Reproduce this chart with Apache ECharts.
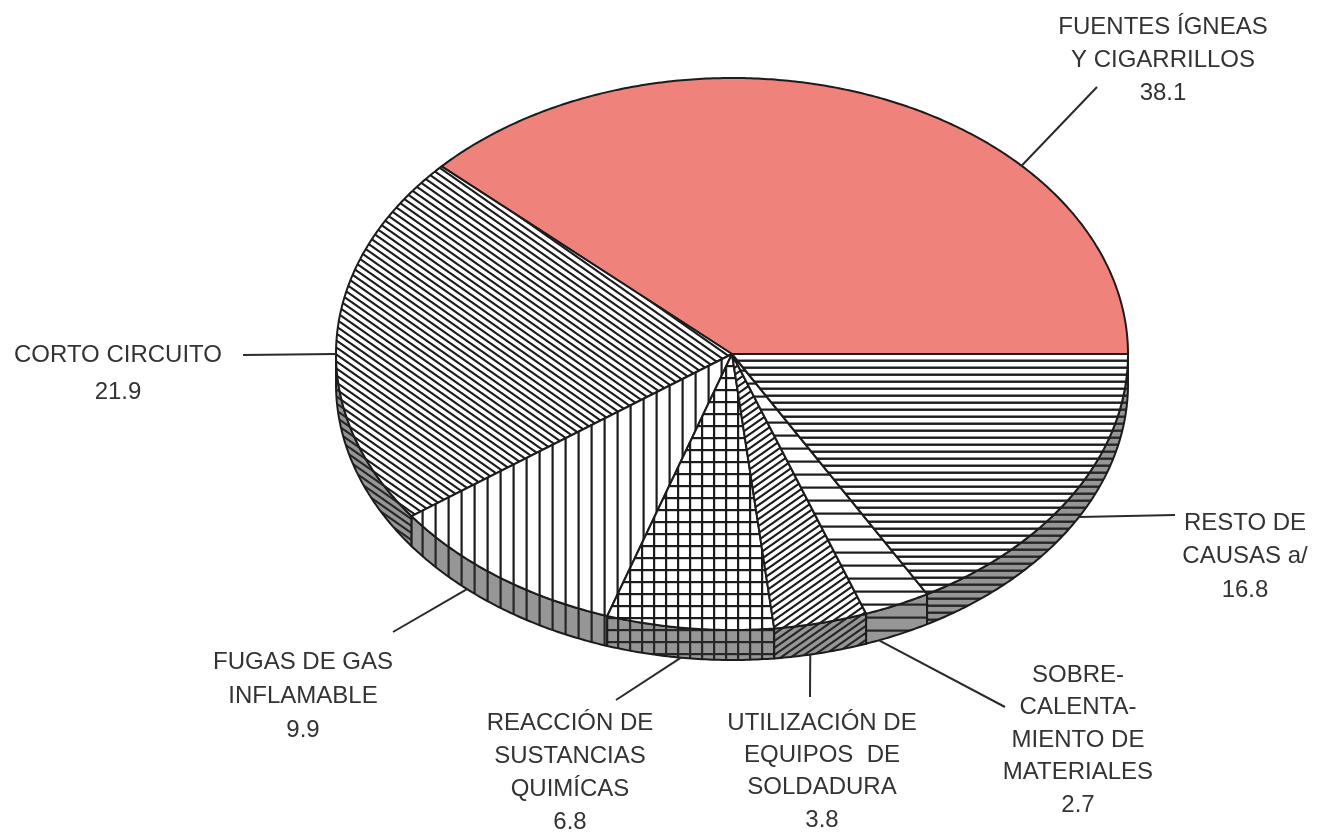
<!DOCTYPE html>
<html>
<head>
<meta charset="utf-8">
<title>Causas de incendio</title>
<script src="https://cdn.jsdelivr.net/npm/echarts@6/dist/echarts.min.js"></script>
<style>
  html, body { margin: 0; padding: 0; background: #ffffff; }
  #chart { width: 1318px; height: 833px; }
</style>
</head>
<body>
<div id="chart"></div>
<script>
// Causes and their shares (percent)
const causes = [
  'FUENTES ÍGNEAS\nY CIGARRILLOS',
  'CORTO CIRCUITO',
  'FUGAS DE GAS\nINFLAMABLE',
  'REACCIÓN DE\nSUSTANCIAS\nQUIMÍCAS',
  'UTILIZACIÓN DE\nEQUIPOS  DE\nSOLDADURA',
  'SOBRE-\nCALENTA-\nMIENTO DE\nMATERIALES',
  'RESTO DE\nCAUSAS a/'
];
const shares = [38.1, 21.9, 9.9, 6.8, 3.8, 2.7, 16.8];

// Fill style of each slice
const fills = ['solid', 'diagDown', 'vert', 'grid', 'diagUp', 'hSparse', 'hDense'];

// Pie geometry (tilted disc)
const geo = { cx: 732, cy: 354, rx: 396, ry: 276, depth: 30 };

// Label placement: centre of first text line, line height, leader line
const labelLayout = [
  { x: 1163, y: 27,  lh: 33,   lead: { ang: 43,    drop: false, to: [1097, 87] } },
  { x: 118,  y: 355, lh: 37,   lead: { ang: 180,   drop: false, to: [243, 355] } },
  { x: 303,  y: 662, lh: 34,   lead: { ang: 228,   drop: true,  to: [393, 632] } },
  { x: 570,  y: 723, lh: 33,   lead: { ang: 262.6, drop: true,  to: [616, 700] } },
  { x: 822,  y: 723, lh: 32.4, lead: { ang: 281.4, drop: true,  to: [810, 697] } },
  { x: 1078, y: 675, lh: 32.5, lead: { ang: 291.8, drop: true,  to: [1005, 707] } },
  { x: 1245, y: 523, lh: 33.5, lead: { ang: -28.8, drop: true,  to: [1175, 515] } }
];

const SALMON = '#ef837c';
const INK = '#1c1c1c';
const TEXT = '#333333';
const FONT = '24px "Liberation Sans", Arial, Helvetica, sans-serif';

// Hatch tiles used as repeating canvas patterns
function makeTile(kind, bg, ink) {
  const c = document.createElement('canvas');
  let w = 12, h = 12;
  if (kind === 'diagDown' || kind === 'diagUp') { w = 10; h = 7; }
  else if (kind === 'vert') { w = 13; h = 4; }
  else if (kind === 'grid') { w = 12; h = 12; }
  else if (kind === 'hSparse') { w = 4; h = 13; }
  else if (kind === 'hDense') { w = 4; h = 7; }
  c.width = w; c.height = h;
  const g = c.getContext('2d');
  g.fillStyle = bg;
  g.fillRect(0, 0, w, h);
  g.strokeStyle = ink;
  g.lineCap = 'square';
  if (kind === 'diagDown') {
    g.lineWidth = 2.2;
    for (const s of [-w, 0, w]) {
      g.beginPath(); g.moveTo(s, 0); g.lineTo(s + w, h); g.stroke();
    }
  } else if (kind === 'diagUp') {
    g.lineWidth = 2.2;
    for (const s of [-w, 0, w]) {
      g.beginPath(); g.moveTo(s, h); g.lineTo(s + w, 0); g.stroke();
    }
  } else if (kind === 'vert') {
    g.fillStyle = ink; g.fillRect(5.5, 0, 2.2, h);
  } else if (kind === 'grid') {
    g.fillStyle = ink; g.fillRect(5, 0, 2.2, h); g.fillRect(0, 5, w, 2.2);
  } else if (kind === 'hSparse') {
    g.fillStyle = ink; g.fillRect(0, 5.5, w, 2.2);
  } else if (kind === 'hDense') {
    g.fillStyle = ink; g.fillRect(0, 2.5, w, 2.4);
  }
  return { image: c, repeat: 'repeat' };
}

function topFill(i) {
  return fills[i] === 'solid' ? SALMON : makeTile(fills[i], '#ffffff', INK);
}
function sideFill(i) {
  return fills[i] === 'solid' ? '#b86660' : makeTile(fills[i], '#969696', '#262626');
}
const topFills = fills.map((_, i) => topFill(i));
const sideFills = fills.map((_, i) => sideFill(i));

// Cumulative start angle (degrees, counter-clockwise from 3 o'clock)
const total = shares.reduce((a, b) => a + b, 0);
const startAt = [];
(function () {
  let acc = 0;
  shares.forEach(v => { startAt.push(acc / total * 360); acc += v; });
})();

function pt(deg, drop) {
  const r = deg * Math.PI / 180;
  return [geo.cx + geo.rx * Math.cos(r), geo.cy - geo.ry * Math.sin(r) + (drop || 0)];
}
function arc(a1, a2, drop) {
  const n = Math.max(2, Math.ceil(Math.abs(a2 - a1) * 2));
  const pts = [];
  for (let k = 0; k <= n; k++) pts.push(pt(a1 + (a2 - a1) * k / n, drop));
  return pts;
}

function renderSide(params, api) {
  const i = params.dataIndex;
  const a1 = startAt[i];
  const a2 = a1 + api.value(0) / total * 360;
  const lo = Math.max(a1, 180), hi = Math.min(a2, 360);
  if (hi <= lo) return { type: 'group', children: [] };
  const points = arc(lo, hi, 0).concat(arc(hi, lo, geo.depth));
  return {
    type: 'polygon',
    shape: { points: points },
    style: { fill: sideFills[i], stroke: INK, lineWidth: 2, lineJoin: 'round' }
  };
}

function renderTop(params, api) {
  const i = params.dataIndex;
  const v = api.value(0);
  const a1 = startAt[i];
  const a2 = a1 + v / total * 360;
  const points = [[geo.cx, geo.cy]].concat(arc(a1, a2, 0));
  const L = labelLayout[i];
  const from = pt(L.lead.ang, L.lead.drop ? geo.depth : 0);
  const label = causes[i] + '\n' + v.toFixed(1);
  return {
    type: 'group',
    children: [
      {
        type: 'polygon',
        shape: { points: points },
        style: { fill: topFills[i], stroke: INK, lineWidth: 2, lineJoin: 'round' }
      },
      {
        type: 'polyline',
        shape: { points: [from, L.lead.to] },
        style: { stroke: '#2a2a2a', lineWidth: 2, fill: null }
      },
      {
        type: 'text',
        style: {
          text: label,
          x: L.x,
          y: L.y - L.lh / 2,
          font: FONT,
          fill: TEXT,
          lineHeight: L.lh,
          align: 'center',
          verticalAlign: 'top',
          textAlign: 'center',
          textVerticalAlign: 'top'
        }
      }
    ]
  };
}

const seriesData = shares.map((v, i) => ({ name: causes[i], value: v }));

const chart = echarts.init(document.getElementById('chart'), null, { renderer: 'canvas' });
chart.setOption({
  backgroundColor: '#ffffff',
  animation: false,
  series: [
    { type: 'custom', coordinateSystem: 'none', z: 1, silent: true, data: seriesData, renderItem: renderSide },
    { type: 'custom', coordinateSystem: 'none', z: 2, silent: true, data: seriesData, renderItem: renderTop }
  ]
});
</script>
</body>
</html>
